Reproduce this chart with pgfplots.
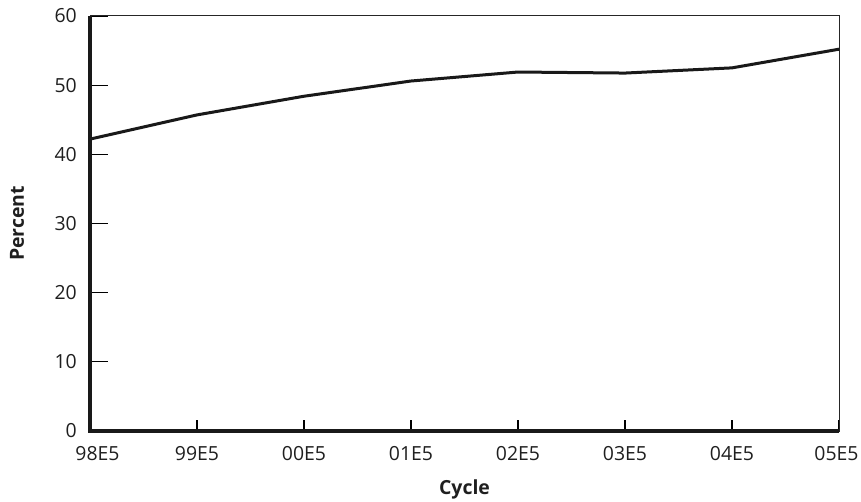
\documentclass[border=0pt]{standalone}
\usepackage{pgfplots}
\pgfplotsset{compat=1.18}
\usepackage{fontspec}
\setmainfont{Open Sans}
\begin{document}
\begin{tikzpicture}
\begin{axis}[
  scale only axis,
  width=749bp, height=415bp,
  xmin=0, xmax=7, ymin=0, ymax=60,
  xtick={0,...,7},
  xticklabels={\hspace*{15bp}98E5,99E5,00E5,01E5,02E5,03E5,04E5,05E5\hspace*{5bp}},
  ytick={0,10,...,60},
  tick align=inside,
  xtick pos=bottom, ytick pos=left,
  xtick style={/pgfplots/major tick length=11bp, line width=1.2bp, black},
  ytick style={/pgfplots/major tick length=18bp, line width=1.2bp, black},
  axis line style={line width=1bp, black!85},
  tick label style={font=\fontsize{19.5}{21}\selectfont, text=black!88, inner sep=0pt},
  /pgf/number format/assume math mode=true,
  xticklabel style={anchor=north, yshift=-15bp},
  yticklabel style={anchor=east, xshift=-13bp},
  xlabel={\textbf{Cycle}},
  ylabel={\textbf{Percent}},
  label style={font=\fontsize{19.5}{21}\selectfont\bfseries, text=black!88, inner sep=0pt},
  xlabel style={at={(axis description cs:0.5,0)}, anchor=center, yshift=-58bp},
  ylabel style={at={(axis description cs:0,0.5)}, anchor=center, rotate=0, yshift=73bp},
  clip=false,
]
\addplot[line width=3bp, black!90, line join=round] coordinates {
  (0,42.2) (1,45.7) (2,48.4) (3,50.6) (4,51.9) (5,51.75) (6,52.5) (7,55.2)
};
\draw[line width=3.2bp, black!90] (rel axis cs:0,1) -- (rel axis cs:0,0) -- (rel axis cs:1,0);
\end{axis}
\pgfresetboundingbox
\path[use as bounding box] (current axis.south west) ++(-90bp,-70bp) rectangle ([xshift=22bp,yshift=16bp]current axis.north east);
\end{tikzpicture}
\end{document}
